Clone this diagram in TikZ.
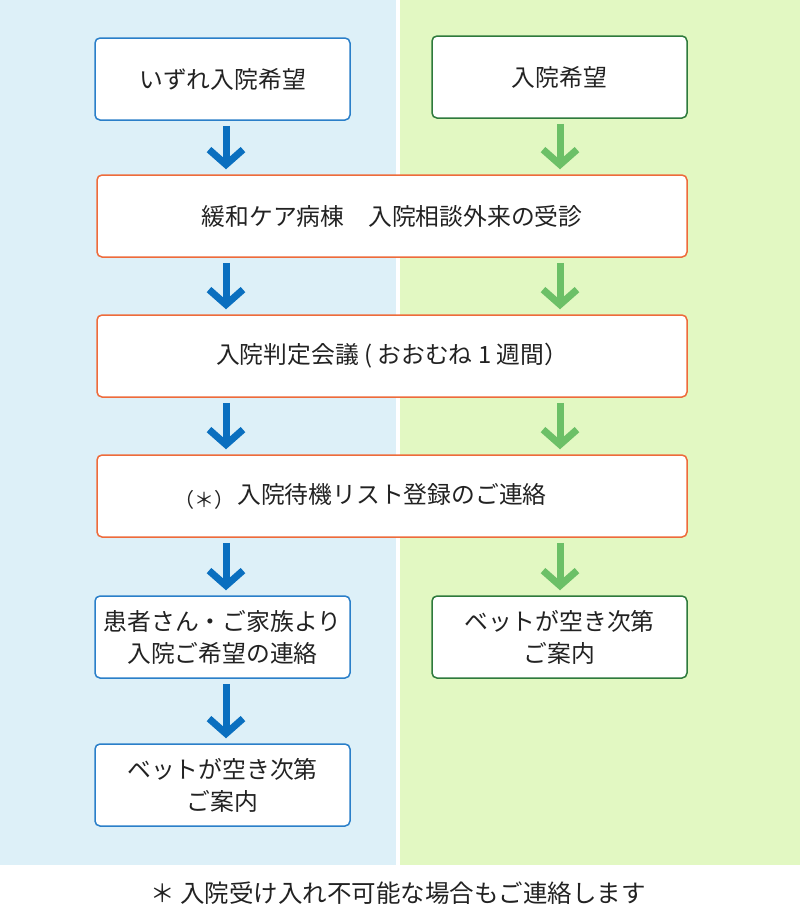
\documentclass[tikz,border=0pt]{standalone}
\usepackage{fontspec}
\setmainfont{Noto Sans CJK JP}
\usetikzlibrary{arrows.meta}
\definecolor{panelblue}{HTML}{DDF0F8}
\definecolor{panelgreen}{HTML}{E2F8C2}
\definecolor{arrowblue}{HTML}{0A6FBF}
\definecolor{arrowgreen}{HTML}{6CC067}
\definecolor{borderblue}{HTML}{2A7FC9}
\definecolor{bordergreen}{HTML}{2E7A3C}
\definecolor{borderorange}{HTML}{EE6B3B}
\definecolor{textcol}{HTML}{222222}
\tikzset{
  box/.style={draw, rounded corners=5pt, line width=1.5pt, fill=white,
    minimum height=82pt, inner sep=0pt, align=center, text=textcol},
  bbox/.style={box, draw=borderblue, minimum width=255pt},
  gbox/.style={box, draw=bordergreen, minimum width=255pt},
  obox/.style={box, draw=borderorange, minimum width=590pt},
  flow/.style={line width=7pt, shorten <=5pt, shorten >=5pt, miter limit=10,
    -{Straight Barb[length=15pt,width=34pt]}},
  barrow/.style={flow, draw=arrowblue},
  garrow/.style={flow, draw=arrowgreen},
  plain/.style={inner sep=0pt, text=textcol}
}
\begin{document}
\begin{tikzpicture}[x=1pt,y=-1pt,font=\fontsize{23.8}{32}\selectfont]
\useasboundingbox (0,0) rectangle (800,911);
\fill[panelblue] (0,0) rectangle (396,865);
\fill[panelgreen] (400,0) rectangle (800,865);

\coordinate (lx) at (226,0);
\coordinate (rx) at (560,0);

\node[bbox] (a) at (222.5,79) {いずれ入院希望};
\node[gbox] (b) at (559.5,77) {入院希望};
\node[obox] (w1) at (392,216) {緩和ケア病棟　入院相談外来の受診};
\node[obox] (w2) at (392,356) {入院判定会議 ( おおむね 1 週間）};
\node[obox] (w3) at (392,496) {};
\node[plain] (w3t) at (392,494) {入院待機リスト登録のご連絡};
\node[plain,font=\fontsize{20}{24}\selectfont] (star) at (204,500) {（＊）};
\node[bbox] (l4) at (222.5,637) {患者さん・ご家族より\\入院ご希望の連絡};
\node[gbox] (r4) at (559.5,637) {ベットが空き次第\\ご案内};
\node[bbox] (l5) at (222.5,785) {ベットが空き次第\\ご案内};

\node[plain,font=\fontsize{24.5}{30}\selectfont] (foot) at (398,893) {＊ 入院受け入れ不可能な場合もご連絡します};

\draw[barrow] (a.south -| lx) -- (w1.north -| lx);
\draw[barrow] (w1.south -| lx) -- (w2.north -| lx);
\draw[barrow] (w2.south -| lx) -- (w3.north -| lx);
\draw[barrow] (w3.south -| lx) -- (l4.north -| lx);
\draw[barrow] (l4.south -| lx) -- (l5.north -| lx);

\draw[garrow] (b.south -| rx) -- (w1.north -| rx);
\draw[garrow] (w1.south -| rx) -- (w2.north -| rx);
\draw[garrow] (w2.south -| rx) -- (w3.north -| rx);
\draw[garrow] (w3.south -| rx) -- (r4.north -| rx);
\end{tikzpicture}
\end{document}
